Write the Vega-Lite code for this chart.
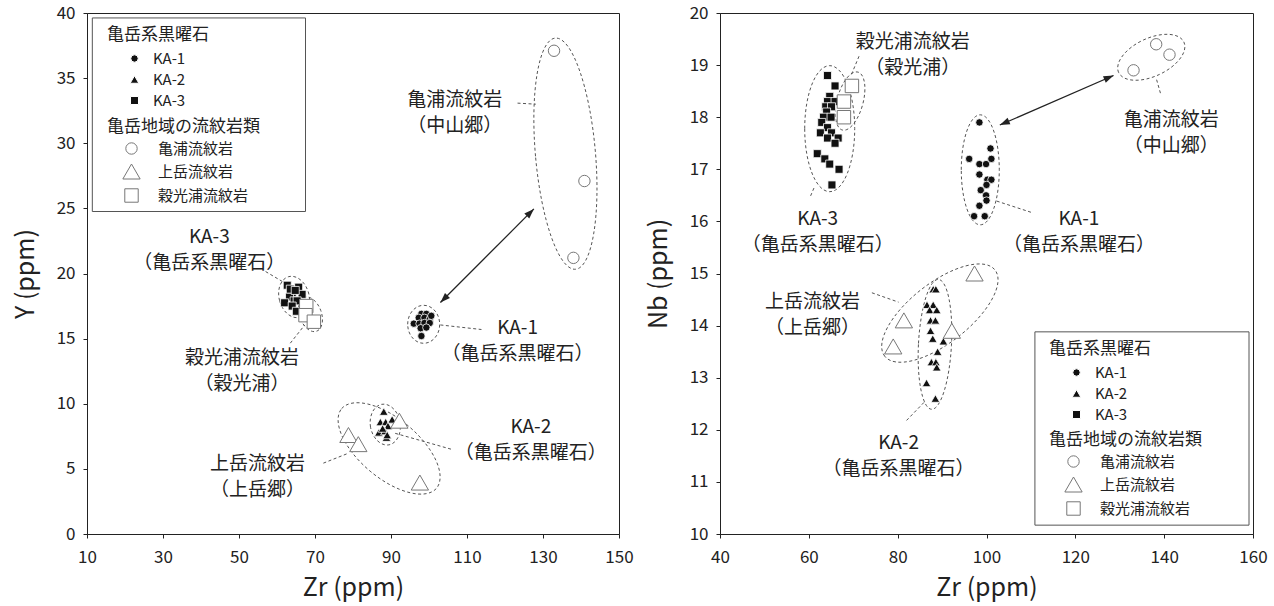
{
  "$schema": "https://vega.github.io/schema/vega-lite/v6.json",
  "padding": {"left": 12, "top": 3, "right": 5, "bottom": 2},
  "spacing": 11,
  "resolve": {"scale": {"shape": "independent", "fill": "independent", "stroke": "independent", "size": "independent"}, "legend": {"shape": "independent", "fill": "independent", "stroke": "independent", "size": "independent"}},
  "config": {
    "font": "Noto Sans CJK JP",
    "view": {"stroke": "#222", "strokeWidth": 1},
    "axis": {"domainColor": "#222", "tickColor": "#222", "labelColor": "#222", "titleColor": "#222", "grid": false, "labelFont": "Noto Sans CJK JP", "titleFont": "Noto Sans CJK JP", "labelFontSize": 17, "titleFontSize": 25, "titleFontWeight": "normal", "tickSize": 4, "labelFlush": false},
    "axisX": {"labelPadding": 11, "titlePadding": 10},
    "axisY": {"labelPadding": 8, "titlePadding": 18},
    "legend": {"titleFont": "Noto Sans CJK JP", "labelFont": "Noto Sans CJK JP", "titleFontSize": 17, "labelFontSize": 15, "titleFontWeight": "normal", "titleColor": "#222", "labelColor": "#222", "padding": 0, "symbolStrokeWidth": 1, "labelLimit": 300}
  },
  "datasets": {
    "ptsL": [
      {"zr": 98.0, "v": 16.9, "type": "KA-1"}, {"zr": 99.3, "v": 16.9, "type": "KA-1"}, {"zr": 97.3, "v": 16.6, "type": "KA-1"}, {"zr": 98.8, "v": 16.6, "type": "KA-1"}, {"zr": 100.2, "v": 16.5, "type": "KA-1"}, {"zr": 96.0, "v": 16.15, "type": "KA-1"}, {"zr": 97.5, "v": 16.15, "type": "KA-1"}, {"zr": 98.8, "v": 16.2, "type": "KA-1"}, {"zr": 100.2, "v": 16.2, "type": "KA-1"}, {"zr": 97.8, "v": 15.8, "type": "KA-1"}, {"zr": 99.3, "v": 15.85, "type": "KA-1"}, {"zr": 98.0, "v": 15.2, "type": "KA-1"}, {"zr": 100.6, "v": 16.75, "type": "KA-1"},
      {"zr": 88.1, "v": 9.4, "type": "KA-2"}, {"zr": 87.2, "v": 8.6, "type": "KA-2"}, {"zr": 88.6, "v": 8.6, "type": "KA-2"}, {"zr": 90.3, "v": 8.8, "type": "KA-2"}, {"zr": 89.2, "v": 8.3, "type": "KA-2"}, {"zr": 86.8, "v": 7.8, "type": "KA-2"}, {"zr": 88.4, "v": 7.9, "type": "KA-2"}, {"zr": 88.8, "v": 7.4, "type": "KA-2"}, {"zr": 87.8, "v": 8.1, "type": "KA-2"}, {"zr": 89.0, "v": 7.6, "type": "KA-2"},
      {"zr": 62.7, "v": 19.1, "type": "KA-3"}, {"zr": 65.7, "v": 18.95, "type": "KA-3"}, {"zr": 64.0, "v": 18.5, "type": "KA-3"}, {"zr": 66.6, "v": 18.4, "type": "KA-3"}, {"zr": 63.3, "v": 18.2, "type": "KA-3"}, {"zr": 64.5, "v": 17.9, "type": "KA-3"}, {"zr": 62.0, "v": 17.75, "type": "KA-3"}, {"zr": 65.3, "v": 17.9, "type": "KA-3"}, {"zr": 64.0, "v": 17.5, "type": "KA-3"}, {"zr": 65.1, "v": 17.1, "type": "KA-3"}, {"zr": 63.5, "v": 18.8, "type": "KA-3"}, {"zr": 64.8, "v": 18.7, "type": "KA-3"},
      {"zr": 132.9, "v": 37.1, "type": "亀浦流紋岩"}, {"zr": 140.9, "v": 27.1, "type": "亀浦流紋岩"}, {"zr": 138.0, "v": 21.2, "type": "亀浦流紋岩"},
      {"zr": 78.8, "v": 7.6, "type": "上岳流紋岩"}, {"zr": 81.4, "v": 6.9, "type": "上岳流紋岩"}, {"zr": 92.2, "v": 8.7, "type": "上岳流紋岩"}, {"zr": 97.6, "v": 3.95, "type": "上岳流紋岩"},
      {"zr": 67.7, "v": 17.5, "type": "穀光浦流紋岩"}, {"zr": 67.5, "v": 16.8, "type": "穀光浦流紋岩"}, {"zr": 69.7, "v": 16.3, "type": "穀光浦流紋岩"}
    ],
    "ptsR": [
      {"zr": 98.4, "v": 17.9, "type": "KA-1"}, {"zr": 96.1, "v": 17.2, "type": "KA-1"}, {"zr": 100.9, "v": 17.4, "type": "KA-1"}, {"zr": 98.4, "v": 17.1, "type": "KA-1"}, {"zr": 99.9, "v": 17.1, "type": "KA-1"}, {"zr": 101.1, "v": 17.2, "type": "KA-1"}, {"zr": 98.4, "v": 16.9, "type": "KA-1"}, {"zr": 100.2, "v": 16.8, "type": "KA-1"}, {"zr": 101.1, "v": 16.8, "type": "KA-1"}, {"zr": 98.7, "v": 16.6, "type": "KA-1"}, {"zr": 100.0, "v": 16.7, "type": "KA-1"}, {"zr": 99.9, "v": 16.5, "type": "KA-1"}, {"zr": 98.4, "v": 16.3, "type": "KA-1"}, {"zr": 100.0, "v": 16.4, "type": "KA-1"}, {"zr": 97.2, "v": 16.1, "type": "KA-1"}, {"zr": 99.6, "v": 16.1, "type": "KA-1"},
      {"zr": 88.0, "v": 14.7, "type": "KA-2"}, {"zr": 88.6, "v": 14.7, "type": "KA-2"}, {"zr": 86.6, "v": 14.4, "type": "KA-2"}, {"zr": 88.0, "v": 14.4, "type": "KA-2"}, {"zr": 87.2, "v": 14.3, "type": "KA-2"}, {"zr": 88.8, "v": 14.3, "type": "KA-2"}, {"zr": 87.4, "v": 14.1, "type": "KA-2"}, {"zr": 88.5, "v": 14.1, "type": "KA-2"}, {"zr": 87.4, "v": 13.9, "type": "KA-2"}, {"zr": 87.9, "v": 13.75, "type": "KA-2"}, {"zr": 90.3, "v": 13.7, "type": "KA-2"}, {"zr": 89.0, "v": 13.5, "type": "KA-2"}, {"zr": 87.6, "v": 13.3, "type": "KA-2"}, {"zr": 88.6, "v": 13.3, "type": "KA-2"}, {"zr": 88.8, "v": 13.2, "type": "KA-2"}, {"zr": 86.5, "v": 12.9, "type": "KA-2"}, {"zr": 88.5, "v": 12.6, "type": "KA-2"},
      {"zr": 64.2, "v": 18.8, "type": "KA-3"}, {"zr": 65.9, "v": 18.6, "type": "KA-3"}, {"zr": 64.7, "v": 18.4, "type": "KA-3"}, {"zr": 64.2, "v": 18.3, "type": "KA-3"}, {"zr": 65.9, "v": 18.3, "type": "KA-3"}, {"zr": 63.8, "v": 18.2, "type": "KA-3"}, {"zr": 65.1, "v": 18.2, "type": "KA-3"}, {"zr": 64.0, "v": 18.1, "type": "KA-3"}, {"zr": 63.3, "v": 18.0, "type": "KA-3"}, {"zr": 65.0, "v": 18.0, "type": "KA-3"}, {"zr": 62.9, "v": 17.9, "type": "KA-3"}, {"zr": 64.2, "v": 17.8, "type": "KA-3"}, {"zr": 62.6, "v": 17.7, "type": "KA-3"}, {"zr": 65.1, "v": 17.7, "type": "KA-3"}, {"zr": 64.2, "v": 17.6, "type": "KA-3"}, {"zr": 66.6, "v": 17.6, "type": "KA-3"}, {"zr": 65.9, "v": 17.5, "type": "KA-3"}, {"zr": 61.9, "v": 17.3, "type": "KA-3"}, {"zr": 63.6, "v": 17.2, "type": "KA-3"}, {"zr": 64.7, "v": 17.1, "type": "KA-3"}, {"zr": 66.8, "v": 17.0, "type": "KA-3"}, {"zr": 65.2, "v": 16.7, "type": "KA-3"},
      {"zr": 133.1, "v": 18.9, "type": "亀浦流紋岩"}, {"zr": 138.2, "v": 19.4, "type": "亀浦流紋岩"}, {"zr": 141.2, "v": 19.2, "type": "亀浦流紋岩"},
      {"zr": 79.0, "v": 13.6, "type": "上岳流紋岩"}, {"zr": 81.4, "v": 14.1, "type": "上岳流紋岩"}, {"zr": 92.2, "v": 13.9, "type": "上岳流紋岩"}, {"zr": 97.3, "v": 15.0, "type": "上岳流紋岩"},
      {"zr": 69.7, "v": 18.6, "type": "穀光浦流紋岩"}, {"zr": 67.9, "v": 18.3, "type": "穀光浦流紋岩"}, {"zr": 67.9, "v": 18.0, "type": "穀光浦流紋岩"}
    ],
    "ellL": [
      {"g": "亀浦", "zr": 135.9, "v": 29.2}, {"g": "KA-3", "zr": 64.5, "v": 18.2}, {"g": "穀光浦", "zr": 68.8, "v": 16.87}, {"g": "KA-1", "zr": 98.6, "v": 16.1}, {"g": "KA-2", "zr": 88.5, "v": 8.4}, {"g": "上岳", "zr": 89.5, "v": 6.57}
    ],
    "ellR": [
      {"g": "亀浦", "zr": 137.1, "v": 19.15}, {"g": "KA-1", "zr": 98.6, "v": 16.99}, {"g": "KA-3", "zr": 64.7, "v": 17.78}, {"g": "穀光浦", "zr": 69.3, "v": 18.31}, {"g": "KA-2", "zr": 88.4, "v": 13.64}, {"g": "上岳", "zr": 89.5, "v": 14.24}
    ],
    "leadL": [
      {"zr": 123.3, "v": 33.08, "zr2": 128.1, "v2": 33.0}, {"zr": 57.0, "v": 20.15, "zr2": 61.9, "v2": 19.3}, {"zr": 63.5, "v": 14.65, "zr2": 67.3, "v2": 16.05}, {"zr": 103.0, "v": 16.05, "zr2": 113.8, "v2": 15.7}, {"zr": 91.1, "v": 7.73, "zr2": 106.2, "v2": 6.48}, {"zr": 72.2, "v": 5.44, "zr2": 78.6, "v2": 6.18}
    ],
    "leadR": [
      {"zr": 71.3, "v": 19.17, "zr2": 69.4, "v2": 18.78}, {"zr": 60.4, "v": 16.49, "zr2": 61.2, "v2": 16.65}, {"zr": 102.3, "v": 16.39, "zr2": 110.2, "v2": 16.17}, {"zr": 138.3, "v": 18.72, "zr2": 139.3, "v2": 18.42}, {"zr": 74.2, "v": 14.63, "zr2": 80.2, "v2": 14.45}, {"zr": 82.0, "v": 12.18, "zr2": 86.2, "v2": 12.55}
    ],
    "arrowL": [{"zr": 103.0, "v": 17.77, "zr2": 127.6, "v2": 24.96}],
    "arrowR": [{"zr": 103.0, "v": 17.85, "zr2": 128.6, "v2": 18.8}],
    "boxL": [{"zr": 11.4, "v": 39.62, "zr2": 67.5, "v2": 24.76}],
    "boxR": [{"zr": 110.9, "v": 13.88, "zr2": 159.1, "v2": 10.17}],
    "txtL": [
      {"zr": 106.8, "v": 32.3, "t": "亀浦流紋岩\n（中山郷）"},
      {"zr": 42.2, "v": 21.8, "t": "KA-3\n（亀岳系黒曜石）"},
      {"zr": 50.8, "v": 12.55, "t": "穀光浦流紋岩\n（穀光浦）"},
      {"zr": 123.3, "v": 14.8, "t": "KA-1\n（亀岳系黒曜石）"},
      {"zr": 126.8, "v": 7.2, "t": "KA-2\n（亀岳系黒曜石）"},
      {"zr": 54.9, "v": 4.35, "t": "上岳流紋岩\n（上岳郷）"}
    ],
    "txtR": [
      {"zr": 83.4, "v": 19.2, "t": "穀光浦流紋岩\n（穀光浦）"},
      {"zr": 62.0, "v": 15.8, "t": "KA-3\n（亀岳系黒曜石）"},
      {"zr": 141.6, "v": 17.7, "t": "亀浦流紋岩\n（中山郷）"},
      {"zr": 120.8, "v": 15.8, "t": "KA-1\n（亀岳系黒曜石）"},
      {"zr": 60.8, "v": 14.2, "t": "上岳流紋岩\n（上岳郷）"},
      {"zr": 80.2, "v": 11.5, "t": "KA-2\n（亀岳系黒曜石）"}
    ]
  },
  "hconcat": [
    {
      "width": 532,
      "height": 521,
      "encoding": {
        "x": {"field": "zr", "type": "quantitative", "title": "Zr (ppm)", "scale": {"domain": [10, 150], "nice": false, "zero": false}, "axis": {"values": [10, 30, 50, 70, 90, 110, 130, 150]}},
        "y": {"field": "v", "type": "quantitative", "title": "Y (ppm)", "scale": {"domain": [0, 40], "nice": false}, "axis": {"values": [0, 5, 10, 15, 20, 25, 30, 35, 40]}}
      },
      "layer": [
        {"data": {"name": "boxL"}, "mark": {"type": "rect", "fill": "#fff", "stroke": "#555", "strokeWidth": 1}, "encoding": {"x2": {"field": "zr2"}, "y2": {"field": "v2"}}},
        {"data": {"name": "ellL"}, "transform": [{"filter": {"field": "g", "equal": "亀浦"}}],
         "mark": {"type": "point", "size": 4, "filled": false, "stroke": "#555", "strokeWidth": 1, "strokeDash": [3, 2.5], "opacity": 1, "shape": "M -29.89 2.62 A 30 116 -5 0 1 29.89 -2.62 A 30 116 -5 0 1 -29.89 2.62 Z"}, "encoding": {}},
        {"data": {"name": "ellL"}, "transform": [{"filter": {"field": "g", "equal": "KA-3"}}],
         "mark": {"type": "point", "size": 4, "filled": false, "stroke": "#555", "strokeWidth": 1, "strokeDash": [3, 2.5], "opacity": 1, "shape": "M -14.49 3.88 A 15 21 -15 0 1 14.49 -3.88 A 15 21 -15 0 1 -14.49 3.88 Z"}, "encoding": {}},
        {"data": {"name": "ellL"}, "transform": [{"filter": {"field": "g", "equal": "穀光浦"}}],
         "mark": {"type": "point", "size": 4, "filled": false, "stroke": "#555", "strokeWidth": 1, "strokeDash": [3, 2.5], "opacity": 1, "shape": "M -10.34 3.76 A 11 18 -20 0 1 10.34 -3.76 A 11 18 -20 0 1 -10.34 3.76 Z"}, "encoding": {}},
        {"data": {"name": "ellL"}, "transform": [{"filter": {"field": "g", "equal": "KA-1"}}],
         "mark": {"type": "point", "size": 4, "filled": false, "stroke": "#555", "strokeWidth": 1, "strokeDash": [3, 2.5], "opacity": 1, "shape": "M -16 0 A 16 19 0 0 1 16 0 A 16 19 0 0 1 -16 0 Z"}, "encoding": {}},
        {"data": {"name": "ellL"}, "transform": [{"filter": {"field": "g", "equal": "KA-2"}}],
         "mark": {"type": "point", "size": 4, "filled": false, "stroke": "#555", "strokeWidth": 1, "strokeDash": [3, 2.5], "opacity": 1, "shape": "M -14.77 2.6 A 15 21 -10 0 1 14.77 -2.6 A 15 21 -10 0 1 -14.77 2.6 Z"}, "encoding": {}},
        {"data": {"name": "ellL"}, "transform": [{"filter": {"field": "g", "equal": "上岳"}}],
         "mark": {"type": "point", "size": 4, "filled": false, "stroke": "#555", "strokeWidth": 1, "strokeDash": [3, 2.5], "opacity": 1, "shape": "M -47.49 -39.85 A 62 30 40 0 1 47.49 39.85 A 62 30 40 0 1 -47.49 -39.85 Z"}, "encoding": {}},
        {"data": {"name": "leadL"}, "mark": {"type": "rule", "stroke": "#555", "strokeWidth": 1, "strokeDash": [3, 2.5]}, "encoding": {"x2": {"field": "zr2"}, "y2": {"field": "v2"}}},
        {"data": {"name": "arrowL"}, "mark": {"type": "rule", "stroke": "#222", "strokeWidth": 1.3}, "encoding": {"x2": {"field": "zr2"}, "y2": {"field": "v2"}}},
        {"data": {"name": "arrowL"}, "mark": {"type": "point", "shape": "M 0 0 L -3.5 10 L 3.5 10 Z", "size": 4, "filled": true, "color": "#222", "opacity": 1, "angle": 45},
         "encoding": {"x": {"field": "zr2", "type": "quantitative", "title": "Zr (ppm)"}, "y": {"field": "v2", "type": "quantitative", "title": "Y (ppm)"}}},
        {"data": {"name": "arrowL"}, "mark": {"type": "point", "shape": "M 0 0 L -3.5 10 L 3.5 10 Z", "size": 4, "filled": true, "color": "#222", "opacity": 1, "angle": 225}, "encoding": {}},
        {
          "data": {"name": "ptsL"},
          "transform": [{"filter": {"field": "type", "oneOf": ["KA-1", "KA-2", "KA-3"]}}],
          "mark": {"type": "point", "filled": true, "opacity": 1, "strokeWidth": 0.8},
          "encoding": {
            "shape": {"field": "type", "type": "nominal", "scale": {"domain": ["KA-1", "KA-2", "KA-3"], "range": ["circle", "triangle-up", "square"]},
              "legend": {"title": "亀岳系黒曜石", "orient": "none", "legendX": 20, "legendY": 14, "symbolOffset": 20, "labelOffset": 11, "rowPadding": 5, "titlePadding": 7}},
            "fill": {"field": "type", "type": "nominal", "scale": {"domain": ["KA-1", "KA-2", "KA-3"], "range": ["#111", "#111", "#111"]},
              "legend": {"title": "亀岳系黒曜石", "orient": "none", "legendX": 20, "legendY": 14, "symbolOffset": 20, "labelOffset": 11, "rowPadding": 5, "titlePadding": 7}},
            "stroke": {"field": "type", "type": "nominal", "scale": {"domain": ["KA-1", "KA-2", "KA-3"], "range": ["#fff", "#fff", "#fff"]},
              "legend": {"title": "亀岳系黒曜石", "orient": "none", "legendX": 20, "legendY": 14, "symbolOffset": 20, "labelOffset": 11, "rowPadding": 5, "titlePadding": 7}},
            "size": {"field": "type", "type": "nominal", "scale": {"type": "ordinal", "domain": ["KA-1", "KA-2", "KA-3"], "range": [55, 75, 64]},
              "legend": {"title": "亀岳系黒曜石", "orient": "none", "legendX": 20, "legendY": 14, "symbolOffset": 20, "labelOffset": 11, "rowPadding": 5, "titlePadding": 7}}
          }
        },
        {
          "data": {"name": "ptsL"},
          "transform": [{"filter": {"field": "type", "oneOf": ["亀浦流紋岩", "上岳流紋岩", "穀光浦流紋岩"]}}],
          "mark": {"type": "point", "filled": true, "opacity": 1, "strokeWidth": 1},
          "encoding": {
            "shape": {"field": "type", "type": "nominal", "scale": {"domain": ["亀浦流紋岩", "上岳流紋岩", "穀光浦流紋岩"], "range": ["circle", "triangle-up", "square"]},
              "legend": {"title": "亀岳地域の流紋岩類", "orient": "none", "legendX": 20, "legendY": 106, "symbolOffset": 15, "labelOffset": 17, "rowPadding": 5, "titlePadding": 5}},
            "fill": {"field": "type", "type": "nominal", "scale": {"domain": ["亀浦流紋岩", "上岳流紋岩", "穀光浦流紋岩"], "range": ["#fff", "#fff", "#fff"]},
              "legend": {"title": "亀岳地域の流紋岩類", "orient": "none", "legendX": 20, "legendY": 106, "symbolOffset": 15, "labelOffset": 17, "rowPadding": 5, "titlePadding": 5}},
            "stroke": {"field": "type", "type": "nominal", "scale": {"domain": ["亀浦流紋岩", "上岳流紋岩", "穀光浦流紋岩"], "range": ["#777", "#777", "#777"]},
              "legend": {"title": "亀岳地域の流紋岩類", "orient": "none", "legendX": 20, "legendY": 106, "symbolOffset": 15, "labelOffset": 17, "rowPadding": 5, "titlePadding": 5}},
            "size": {"field": "type", "type": "nominal", "scale": {"type": "ordinal", "domain": ["亀浦流紋岩", "上岳流紋岩", "穀光浦流紋岩"], "range": [130, 300, 180]},
              "legend": {"title": "亀岳地域の流紋岩類", "orient": "none", "legendX": 20, "legendY": 106, "symbolOffset": 15, "labelOffset": 17, "rowPadding": 5, "titlePadding": 5}}
          }
        },
        {"data": {"name": "txtL"}, "mark": {"type": "text", "fontSize": 19, "lineHeight": 26, "dy": -13, "lineBreak": "\n", "align": "center", "baseline": "middle", "color": "#222"}, "encoding": {"text": {"field": "t", "type": "nominal"}}}
      ],
      "resolve": {"scale": {"shape": "independent", "fill": "independent", "stroke": "independent", "size": "independent"}}
    },
    {
      "width": 533,
      "height": 521,
      "encoding": {
        "x": {"field": "zr", "type": "quantitative", "title": "Zr (ppm)", "scale": {"domain": [40, 160], "nice": false, "zero": false}, "axis": {"values": [40, 60, 80, 100, 120, 140, 160]}},
        "y": {"field": "v", "type": "quantitative", "title": "Nb (ppm)", "scale": {"domain": [10, 20], "nice": false, "zero": false}, "axis": {"values": [10, 11, 12, 13, 14, 15, 16, 17, 18, 19, 20]}}
      },
      "layer": [
        {"data": {"name": "boxR"}, "mark": {"type": "rect", "fill": "#fff", "stroke": "#555", "strokeWidth": 1}, "encoding": {"x2": {"field": "zr2"}, "y2": {"field": "v2"}}},
        {"data": {"name": "ellR"}, "transform": [{"filter": {"field": "g", "equal": "亀浦"}}],
         "mark": {"type": "point", "size": 4, "filled": false, "stroke": "#555", "strokeWidth": 1, "strokeDash": [3, 2.5], "opacity": 1, "shape": "M -32.63 15.21 A 36 19 -25 0 1 32.63 -15.21 A 36 19 -25 0 1 -32.63 15.21 Z"}, "encoding": {}},
        {"data": {"name": "ellR"}, "transform": [{"filter": {"field": "g", "equal": "KA-1"}}],
         "mark": {"type": "point", "size": 4, "filled": false, "stroke": "#555", "strokeWidth": 1, "strokeDash": [3, 2.5], "opacity": 1, "shape": "M -19 0 A 19 55 0 0 1 19 0 A 19 55 0 0 1 -19 0 Z"}, "encoding": {}},
        {"data": {"name": "ellR"}, "transform": [{"filter": {"field": "g", "equal": "KA-3"}}],
         "mark": {"type": "point", "size": 4, "filled": false, "stroke": "#555", "strokeWidth": 1, "strokeDash": [3, 2.5], "opacity": 1, "shape": "M -25 0 A 25 63 0 0 1 25 0 A 25 63 0 0 1 -25 0 Z"}, "encoding": {}},
        {"data": {"name": "ellR"}, "transform": [{"filter": {"field": "g", "equal": "穀光浦"}}],
         "mark": {"type": "point", "size": 4, "filled": false, "stroke": "#555", "strokeWidth": 1, "strokeDash": [3, 2.5], "opacity": 1, "shape": "M -12.56 -3.36 A 13 30 15 0 1 12.56 3.36 A 13 30 15 0 1 -12.56 -3.36 Z"}, "encoding": {}},
        {"data": {"name": "ellR"}, "transform": [{"filter": {"field": "g", "equal": "KA-2"}}],
         "mark": {"type": "point", "size": 4, "filled": false, "stroke": "#555", "strokeWidth": 1, "strokeDash": [3, 2.5], "opacity": 1, "shape": "M -16.48 -0.86 A 16.5 65 3 0 1 16.48 0.86 A 16.5 65 3 0 1 -16.48 -0.86 Z"}, "encoding": {}},
        {"data": {"name": "ellR"}, "transform": [{"filter": {"field": "g", "equal": "上岳"}}],
         "mark": {"type": "point", "size": 4, "filled": false, "stroke": "#555", "strokeWidth": 1, "strokeDash": [3, 2.5], "opacity": 1, "shape": "M -55.16 43.1 A 70 30 -38 0 1 55.16 -43.1 A 70 30 -38 0 1 -55.16 43.1 Z"}, "encoding": {}},
        {"data": {"name": "leadR"}, "mark": {"type": "rule", "stroke": "#555", "strokeWidth": 1, "strokeDash": [3, 2.5]}, "encoding": {"x2": {"field": "zr2"}, "y2": {"field": "v2"}}},
        {"data": {"name": "arrowR"}, "mark": {"type": "rule", "stroke": "#222", "strokeWidth": 1.3}, "encoding": {"x2": {"field": "zr2"}, "y2": {"field": "v2"}}},
        {"data": {"name": "arrowR"}, "mark": {"type": "point", "shape": "M 0 0 L -3.5 10 L 3.5 10 Z", "size": 4, "filled": true, "color": "#222", "opacity": 1, "angle": 66.5},
         "encoding": {"x": {"field": "zr2", "type": "quantitative", "title": "Zr (ppm)"}, "y": {"field": "v2", "type": "quantitative", "title": "Nb (ppm)"}}},
        {"data": {"name": "arrowR"}, "mark": {"type": "point", "shape": "M 0 0 L -3.5 10 L 3.5 10 Z", "size": 4, "filled": true, "color": "#222", "opacity": 1, "angle": 246.5}, "encoding": {}},
        {
          "data": {"name": "ptsR"},
          "transform": [{"filter": {"field": "type", "oneOf": ["KA-1", "KA-2", "KA-3"]}}],
          "mark": {"type": "point", "filled": true, "opacity": 1, "strokeWidth": 0.8},
          "encoding": {
            "shape": {"field": "type", "type": "nominal", "scale": {"domain": ["KA-1", "KA-2", "KA-3"], "range": ["circle", "triangle-up", "square"]},
              "legend": {"title": "亀岳系黒曜石", "orient": "none", "legendX": 329, "legendY": 328, "symbolOffset": 20, "labelOffset": 11, "rowPadding": 5, "titlePadding": 7}},
            "fill": {"field": "type", "type": "nominal", "scale": {"domain": ["KA-1", "KA-2", "KA-3"], "range": ["#111", "#111", "#111"]},
              "legend": {"title": "亀岳系黒曜石", "orient": "none", "legendX": 329, "legendY": 328, "symbolOffset": 20, "labelOffset": 11, "rowPadding": 5, "titlePadding": 7}},
            "stroke": {"field": "type", "type": "nominal", "scale": {"domain": ["KA-1", "KA-2", "KA-3"], "range": ["#fff", "#fff", "#fff"]},
              "legend": {"title": "亀岳系黒曜石", "orient": "none", "legendX": 329, "legendY": 328, "symbolOffset": 20, "labelOffset": 11, "rowPadding": 5, "titlePadding": 7}},
            "size": {"field": "type", "type": "nominal", "scale": {"type": "ordinal", "domain": ["KA-1", "KA-2", "KA-3"], "range": [55, 75, 64]},
              "legend": {"title": "亀岳系黒曜石", "orient": "none", "legendX": 329, "legendY": 328, "symbolOffset": 20, "labelOffset": 11, "rowPadding": 5, "titlePadding": 7}}
          }
        },
        {
          "data": {"name": "ptsR"},
          "transform": [{"filter": {"field": "type", "oneOf": ["亀浦流紋岩", "上岳流紋岩", "穀光浦流紋岩"]}}],
          "mark": {"type": "point", "filled": true, "opacity": 1, "strokeWidth": 1},
          "encoding": {
            "shape": {"field": "type", "type": "nominal", "scale": {"domain": ["亀浦流紋岩", "上岳流紋岩", "穀光浦流紋岩"], "range": ["circle", "triangle-up", "square"]},
              "legend": {"title": "亀岳地域の流紋岩類", "orient": "none", "legendX": 329, "legendY": 419, "symbolOffset": 15, "labelOffset": 17, "rowPadding": 5, "titlePadding": 5}},
            "fill": {"field": "type", "type": "nominal", "scale": {"domain": ["亀浦流紋岩", "上岳流紋岩", "穀光浦流紋岩"], "range": ["#fff", "#fff", "#fff"]},
              "legend": {"title": "亀岳地域の流紋岩類", "orient": "none", "legendX": 329, "legendY": 419, "symbolOffset": 15, "labelOffset": 17, "rowPadding": 5, "titlePadding": 5}},
            "stroke": {"field": "type", "type": "nominal", "scale": {"domain": ["亀浦流紋岩", "上岳流紋岩", "穀光浦流紋岩"], "range": ["#777", "#777", "#777"]},
              "legend": {"title": "亀岳地域の流紋岩類", "orient": "none", "legendX": 329, "legendY": 419, "symbolOffset": 15, "labelOffset": 17, "rowPadding": 5, "titlePadding": 5}},
            "size": {"field": "type", "type": "nominal", "scale": {"type": "ordinal", "domain": ["亀浦流紋岩", "上岳流紋岩", "穀光浦流紋岩"], "range": [130, 300, 180]},
              "legend": {"title": "亀岳地域の流紋岩類", "orient": "none", "legendX": 329, "legendY": 419, "symbolOffset": 15, "labelOffset": 17, "rowPadding": 5, "titlePadding": 5}}
          }
        },
        {"data": {"name": "txtR"}, "mark": {"type": "text", "fontSize": 19, "lineHeight": 26, "dy": -13, "lineBreak": "\n", "align": "center", "baseline": "middle", "color": "#222"}, "encoding": {"text": {"field": "t", "type": "nominal"}}}
      ],
      "resolve": {"scale": {"shape": "independent", "fill": "independent", "stroke": "independent", "size": "independent"}}
    }
  ]
}
